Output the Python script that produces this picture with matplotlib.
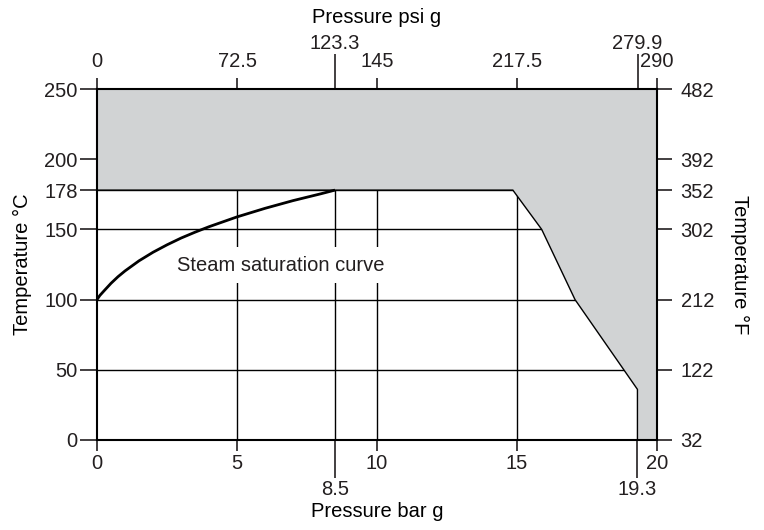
import matplotlib
matplotlib.use("Agg")
import matplotlib.pyplot as plt

plt.rcParams['font.family'] = ['Liberation Sans', 'DejaVu Sans']
plt.rcParams['font.size'] = 14.5
plt.rcParams['text.color'] = '#231f20'
plt.rcParams['xtick.color'] = '#231f20'
plt.rcParams['ytick.color'] = '#231f20'

# steam saturation curve (bar g, deg C)
sat_bar = [0, 0.1, 0.25, 0.5, 0.75, 1, 1.5, 2, 2.5, 3, 3.5, 4, 5, 6, 7, 8, 8.5]
sat_temp = [100, 102.9, 106.2, 111.6, 116.3, 120.4, 127.6, 133.7, 139.0, 143.8,
            148.0, 151.9, 158.9, 165.0, 170.5, 175.4, 178]

# limit of the grey region (bar g, deg C)
lim_bar = [0, 20, 20, 19.3, 19.3, 17.07, 15.88, 14.85, 0]
lim_temp = [250, 250, 0, 0, 36, 100, 150, 178, 178]

grid_temp = [50, 100, 150, 178]
grid_bar = [5, 8.5, 10, 15]

bar_major = [0, 5, 10, 15, 20]
bar_minor = [8.5, 19.3]
psi_major = [0, 72.5, 145, 217.5, 290]
psi_minor = [123.3, 279.9]
degc_ticks = [0, 50, 100, 150, 178, 200, 250]
degf_ticks = [32, 122, 212, 302, 352, 392, 482]

fig = plt.figure(figsize=(7.64, 5.30), dpi=100)
ax = fig.add_axes([0.127, 0.170, 0.733, 0.662])
ax.set_xlim(0, 20)
ax.set_ylim(0, 250)

# grid lines, covered by the grey region where they run into it
ax.hlines(grid_temp, 0, 20, color='black', lw=1.0, zorder=1)
ax.vlines(grid_bar, 0, 178, color='black', lw=1.0, zorder=1)

ax.fill(lim_bar, lim_temp, facecolor='#d1d3d4', edgecolor='black', lw=1.0, zorder=2)
ax.plot(sat_bar, sat_temp, color='black', lw=2.0, zorder=3, solid_capstyle='butt')

ax.text(6.57, 124.5, 'Steam saturation curve', ha='center', va='center',
        zorder=4, bbox=dict(facecolor='white', edgecolor='none', pad=6))

for s in ax.spines.values():
    s.set_linewidth(1.5)
    s.set_zorder(5)

ax.set_xticks(bar_major)
ax.set_xticks(bar_minor, minor=True)
ax.set_xticklabels([str(v) for v in bar_major])
ax.set_xticklabels([str(v) for v in bar_minor], minor=True)
ax.tick_params(axis='x', which='major', length=8, width=1.2, pad=2)
ax.tick_params(axis='x', which='minor', length=27, width=1.2, pad=2)
ax.set_yticks(degc_ticks)
ax.tick_params(axis='y', length=12, width=1.2, pad=2)
ax.set_xlabel('Pressure bar g', labelpad=2)
ax.set_ylabel('Temperature °C', labelpad=9)

top = ax.secondary_xaxis('top', functions=(lambda b: b * 14.5, lambda p: p / 14.5))
top.set_xticks(psi_major)
top.set_xticks(psi_minor, minor=True)
top.set_xticklabels(['0', '72.5', '145', '217.5', '290'])
top.set_xticklabels(['123.3', '279.9'], minor=True)
top.tick_params(axis='x', which='major', length=8, width=1.2, pad=5)
top.tick_params(axis='x', which='minor', length=25, width=1.2, pad=1)
top.set_xlabel('Pressure psi g', labelpad=8)
top.spines['top'].set_visible(False)

right = ax.secondary_yaxis('right', functions=(lambda c: c * 1.8 + 32, lambda f: (f - 32) / 1.8))
right.set_yticks(degf_ticks)
right.tick_params(axis='y', length=11, width=1.2, pad=6)
right.set_ylabel('Temperature °F', rotation=-90, labelpad=25)
right.spines['right'].set_visible(False)

fig.savefig('out.png', dpi=100)
